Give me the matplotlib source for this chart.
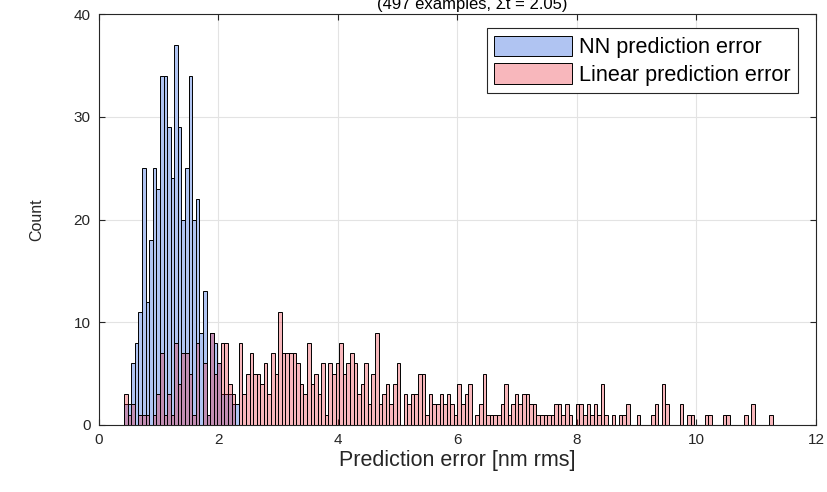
import numpy as np
import matplotlib
matplotlib.use("Agg")
import matplotlib.pyplot as plt

plt.rcParams['font.family'] = ['Liberation Sans', 'DejaVu Sans']

# ---- data (counts per bin, bin width 0.06 starting at 0.42) ----
bin_start = 0.42
bin_width = 0.06
nn_counts = [2, 2, 6, 8, 11, 25, 12, 18, 25, 23, 34, 34, 29, 24, 37, 29, 20, 25,
             34, 20, 22, 9, 13, 1, 9, 8, 6, 3, 3, 3, 2, 2]
lin_counts = [3, 1, 2, 0, 1, 1, 1, 0, 1, 3,
              7, 1, 3, 1, 8, 4, 7, 7, 5, 1,
              8, 0, 6, 1, 9, 5, 6, 8, 8, 4,
              3, 0, 8, 3, 5, 7, 5, 5, 4, 6,
              3, 7, 5, 11, 7, 7, 7, 7, 6, 4,
              3, 8, 4, 5, 3, 6, 1, 6, 5, 6,
              8, 5, 6, 7, 6, 3, 4, 6, 2, 5,
              9, 2, 3, 4, 2, 4, 6, 0, 3, 2,
              3, 3, 5, 5, 1, 3, 2, 2, 3, 2,
              3, 2, 1, 4, 2, 3, 4, 0, 1, 2,
              5, 1, 1, 1, 1, 2, 4, 1, 2, 3,
              2, 3, 3, 2, 2, 1, 1, 1, 1, 1,
              2, 2, 1, 2, 1, 0, 2, 2, 1, 2,
              1, 2, 1, 4, 1, 0, 1, 0, 1, 1,
              2, 0, 0, 1, 0, 0, 0, 1, 2, 0,
              4, 2, 0, 0, 0, 2, 0, 1, 1, 0,
              0, 0, 1, 1, 0, 0, 0, 1, 1, 0,
              0, 0, 0, 1, 0, 2, 0, 0, 0, 0,
              1]
labels = ["NN prediction error", "Linear prediction error"]
title_text = "(497 examples, \u03a3t = 2.05)"
xlabel_text = "Prediction error [nm rms]"
ylabel_text = "Count"
xticks = [0, 2, 4, 6, 8, 10, 12]
yticks = [0, 10, 20, 30, 40]

fig = plt.figure(figsize=(8.27, 4.92), dpi=100)
ax = fig.add_axes([99/827, 1-425/492, (816-99)/827, (425-14)/492])

n_lin = len(lin_counts)
edges = bin_start + bin_width*np.arange(n_lin + 1)
centers = 0.5*(edges[:-1] + edges[1:])
nn_edges = edges[:len(nn_counts)+1]
nn_centers = centers[:len(nn_counts)]

ax.hist(nn_centers, bins=nn_edges, weights=nn_counts, facecolor='#b0c4f2',
        edgecolor='black', linewidth=0.7, label=labels[0], zorder=2)
ax.hist(centers, bins=edges, weights=lin_counts,
        facecolor=(235/255, 18/255, 35/255, 0.3),
        edgecolor='black', linewidth=0.7, label=labels[1], zorder=3)

ax.set_xlim(0, 12)
ax.set_ylim(0, 40)
ax.set_xticks(xticks)
ax.set_yticks(yticks)
ax.grid(True, color='#e3e3e3', linewidth=0.8)
ax.set_axisbelow(True)
ax.tick_params(direction='in', length=4, width=0.8, top=True, right=True,
               labelsize=11, colors='#262626', pad=6)
for s in ax.spines.values():
    s.set_color('#262626')
    s.set_linewidth(0.8)

ax.set_xlabel(xlabel_text, fontsize=15.5, color='#262626', labelpad=2)
ax.set_ylabel(ylabel_text, fontsize=11.5, color='#262626', labelpad=21)

fig.text(472/827, 1-9/492, title_text, fontsize=12, ha='center', va='baseline',
         color='black')

leg = ax.legend(loc='upper right', bbox_to_anchor=(1-18/717, 1-14/411),
                fontsize=15.6, handlelength=3.6, handleheight=1.05,
                handletextpad=0.3, labelspacing=0.25, borderpad=0.35,
                borderaxespad=0, fancybox=False, framealpha=1,
                edgecolor='#262626')
leg.get_frame().set_linewidth(0.8)

fig.savefig("out.png", dpi=100)
